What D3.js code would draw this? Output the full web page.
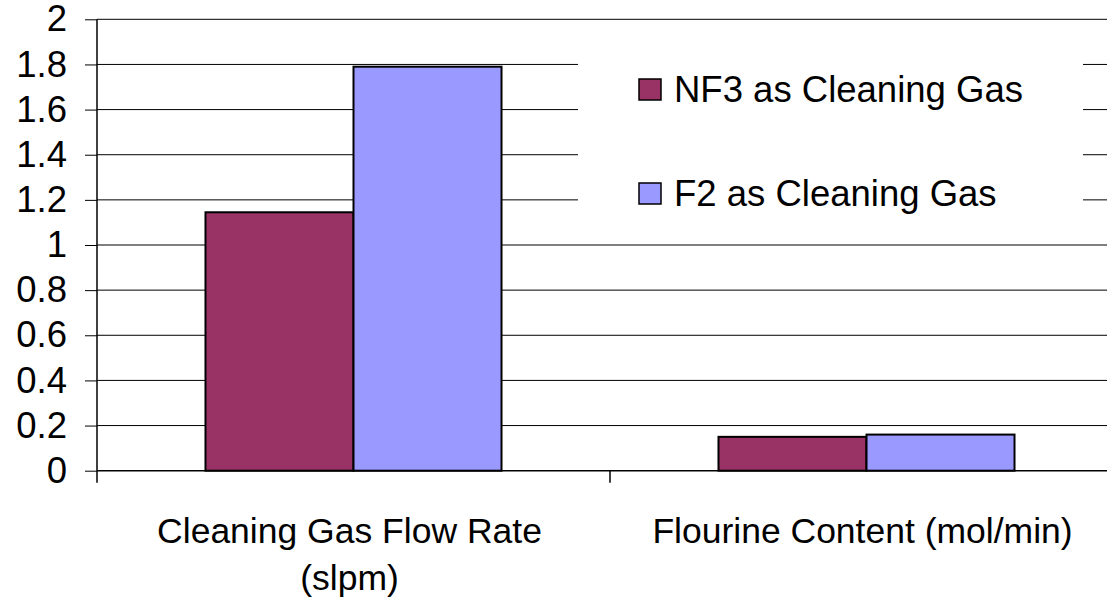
<!DOCTYPE html>
<html>
<head>
<meta charset="utf-8">
<script src="https://cdn.jsdelivr.net/npm/d3@7"></script>
<style>
  html, body { margin: 0; padding: 0; background: #fff; overflow: hidden; }
  svg { display: block; }
  text { font-family: "Liberation Sans", Arial, sans-serif; fill: #000; }
</style>
</head>
<body>
<svg id="chart" width="1107" height="603"></svg>
<script>
// Categories (each label may wrap onto two lines)
const categories = ["Cleaning Gas Flow Rate (slpm)", "Flourine Content (mol/min)"];
const categoryLines = [["Cleaning Gas Flow Rate", "(slpm)"], ["Flourine Content (mol/min)"]];

// Series
const seriesNames = ["NF3 as Cleaning Gas", "F2 as Cleaning Gas"];
const seriesColors = ["#993366", "#9999FF"];
const nf3Values = [1.145, 0.15];
const f2Values = [1.79, 0.16];

// Y ticks
const yTicks = [0, 0.2, 0.4, 0.6, 0.8, 1, 1.2, 1.4, 1.6, 1.8, 2];

const svg = d3.select("#chart");

const plotLeft = 97, plotRight = 1123, plotTop = 19.3, plotBottom = 470.7;

const y = d3.scaleLinear().domain([0, 2]).range([plotBottom, plotTop]);
const x0 = d3.scaleBand().domain(categories).range([plotLeft, plotRight]).padding(0);
const x1 = d3.scaleBand().domain(seriesNames).range([0, x0.bandwidth()])
  .paddingInner(0).paddingOuter(0.733);

// Gridlines
svg.append("g").selectAll("line").data(yTicks.filter(d => d > 0)).join("line")
  .attr("x1", plotLeft).attr("x2", plotRight)
  .attr("y1", d => y(d)).attr("y2", d => y(d))
  .attr("stroke", "#000").attr("stroke-width", 1);

// Legend background sits over the gridlines
const legend = svg.append("g");
legend.append("rect")
  .attr("x", 578).attr("y", 40).attr("width", 505).attr("height", 186)
  .attr("fill", "#fff");

// Bars
const data = categories.map((c, i) => ({ cat: c, values: [nf3Values[i], f2Values[i]] }));
const groups = svg.append("g").selectAll("g").data(data).join("g")
  .attr("transform", d => `translate(${x0(d.cat)},0)`);
groups.selectAll("rect")
  .data(d => d.values.map((v, j) => ({ name: seriesNames[j], value: v, color: seriesColors[j] })))
  .join("rect")
  .attr("x", d => x1(d.name))
  .attr("width", x1.bandwidth())
  .attr("y", d => y(d.value))
  .attr("height", d => y(0) - y(d.value))
  .attr("fill", d => d.color)
  .attr("stroke", "#000").attr("stroke-width", 2);

// Y axis
const yAxis = d3.axisLeft(y).tickValues(yTicks).tickSize(12).tickPadding(18)
  .tickFormat(d => d3.format("")(+d.toFixed(1)));
const ya = svg.append("g").attr("transform", `translate(${plotLeft},0)`).call(yAxis);
ya.select(".domain").remove();
ya.selectAll(".tick line").attr("stroke", "#000");
ya.selectAll(".tick text").attr("font-size", 36.5).style("font-family", "'Liberation Sans', Arial, sans-serif");
svg.append("line")
  .attr("x1", plotLeft).attr("x2", plotLeft)
  .attr("y1", plotTop).attr("y2", plotBottom + 12)
  .attr("stroke", "#000").attr("stroke-width", 1.5);

// X axis
svg.append("line")
  .attr("x1", plotLeft).attr("x2", plotRight)
  .attr("y1", plotBottom).attr("y2", plotBottom)
  .attr("stroke", "#000").attr("stroke-width", 1.5);
svg.append("g").selectAll("line").data(categories.slice(1)).join("line")
  .attr("x1", d => x0(d)).attr("x2", d => x0(d))
  .attr("y1", plotBottom).attr("y2", plotBottom + 12)
  .attr("stroke", "#000").attr("stroke-width", 1.5);

// Category labels
const catLabels = svg.append("g").selectAll("text").data(categories).join("text")
  .attr("text-anchor", "middle")
  .attr("font-size", 35.5)
  .attr("x", d => x0(d) + x0.bandwidth() / 2 - 4)
  .attr("y", 543);
catLabels.each(function(d, i) {
  d3.select(this).selectAll("tspan").data(categoryLines[i]).join("tspan")
    .attr("x", x0(d) + x0.bandwidth() / 2 - 4)
    .attr("dy", (t, k) => k === 0 ? 0 : 47)
    .text(t => t);
});

// Legend entries
const legendRows = [102, 206];
seriesNames.forEach((name, i) => {
  legend.append("rect")
    .attr("x", 639).attr("y", legendRows[i] - 23)
    .attr("width", 22).attr("height", 21)
    .attr("fill", seriesColors[i])
    .attr("stroke", "#000").attr("stroke-width", 1.5);
  legend.append("text")
    .attr("x", 674).attr("y", legendRows[i])
    .attr("font-size", 36.5)
    .text(name);
});
</script>
</body>
</html>
